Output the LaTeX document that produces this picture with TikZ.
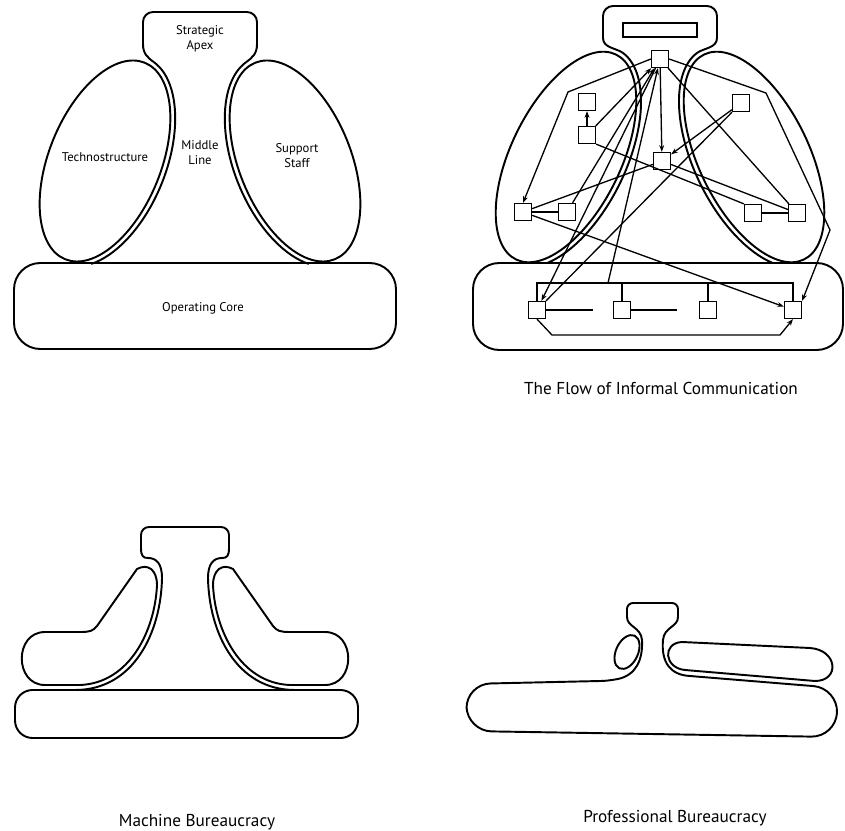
\documentclass[tikz,border=0pt]{standalone}
\usepackage{fontspec}
\setmainfont{PT Sans}
\usetikzlibrary{arrows.meta, positioning}

\begin{document}
\begin{tikzpicture}[x=0.02cm, y=0.02cm,
    outline/.style={line width=1.1pt, line join=round},
    link/.style={line width=0.75pt},
    arr/.style={link, -{Stealth[length=3.8pt, width=2.8pt]}},
    box/.style={draw, line width=0.9pt, minimum size=9.5pt, inner sep=0pt},
    lbl/.style={font=\fontsize{7.2}{8.5}\selectfont, align=center, inner sep=0pt},
    caption/.style={font=\fontsize{9.8}{11}\selectfont, inner sep=0pt}]
    \useasboundingbox (0,0) rectangle (845,-831);
    %
    \begin{scope}
        \def\la{106}        % lobe half length
        \def\lb{56}         % lobe half width
        \def\ma{111}        % middle line offset, long
        \def\mb{61}         % middle line offset, short
        \def\tilt{68}       % lobe tilt
        % Draw the operating core
        \draw[outline, rounded corners=15] (14,-263) rectangle (396,-349);
        % Draw the strategic apex
        \draw[outline] (143,-44) -- (143,-22) arc (180:90:10) -- (247,-12) arc (90:0:10) -- (257,-44);
        % Draw the technostructure and the middle line beside it
        \begin{scope}[shift={(105,-161)}, rotate=\tilt]
            \draw[outline] (0,0) ellipse [x radius=\la, y radius=\lb];
            \draw[outline] ({\ma*cos(-8)}, {\mb*sin(-8)}) coordinate (ML1) arc [start angle=-8, end angle=-155, x radius=\ma, y radius=\mb];
        \end{scope}
        \draw[outline] (143,-44) .. controls +(0,-10) and +(-6.4,4.7) .. (ML1);
        % Draw the support staff and the middle line beside it
        \begin{scope}[shift={(295,-161)}, xscale=-1, rotate=\tilt]
            \draw[outline] (0,0) ellipse [x radius=\la, y radius=\lb];
            \draw[outline] ({\ma*cos(-8)}, {\mb*sin(-8)}) coordinate (ML2) arc [start angle=-8, end angle=-155, x radius=\ma, y radius=\mb];
        \end{scope}
        \draw[outline] (257,-44) .. controls +(0,-10) and +(6.4,4.7) .. (ML2);
        % Name the parts
        \node[lbl] (apex) at (200,-39) {Strategic\\Apex};
        \node[lbl] (techno) at (105,-157) {Technostructure};
        \node[lbl] (middle) at (200,-153) {Middle\\Line};
        \node[lbl] (support) at (297,-156) {Support\\Staff};
        \node[lbl] (core) at (203,-308) {Operating Core};
    \end{scope}
    %
    \begin{scope}
        \def\la{114}        % lobe half length
        \def\lb{55}         % lobe half width
        \def\ma{119}        % middle line offset, long
        \def\mb{60}         % middle line offset, short
        \def\tilt{64}       % lobe tilt
        % Draw the operating core
        \draw[outline, rounded corners=15] (473,-263) rectangle (843,-350);
        % Draw the strategic apex
        \draw[outline] (603,-38) -- (603,-16) arc (180:90:10) -- (707,-6) arc (90:0:10) -- (717,-38);
        % Draw the technostructure and the middle line beside it
        \begin{scope}[shift={(566,-157)}, rotate=\tilt]
            \draw[outline] (0,0) ellipse [x radius=\la, y radius=\lb];
            \draw[outline] ({\ma*cos(-5)}, {\mb*sin(-5)}) coordinate (ML3) arc [start angle=-5, end angle=-150, x radius=\ma, y radius=\mb];
        \end{scope}
        \draw[outline] (603,-38) .. controls +(0,-10) and +(-6.5,4.7) .. (ML3);
        % Draw the support staff and the middle line beside it
        \begin{scope}[shift={(754,-157)}, xscale=-1, rotate=\tilt]
            \draw[outline] (0,0) ellipse [x radius=\la, y radius=\lb];
            \draw[outline] ({\ma*cos(-5)}, {\mb*sin(-5)}) coordinate (ML4) arc [start angle=-5, end angle=-150, x radius=\ma, y radius=\mb];
        \end{scope}
        \draw[outline] (717,-38) .. controls +(0,-10) and +(6.5,4.7) .. (ML4);
        % Draw the people who talk to one another
        \node[draw, line width=1pt, minimum width=1.48cm, minimum height=0.28cm, inner sep=0pt] (bar) at (660,-30) {};
        \node[box] (T) at (660,-59) {};
        \node[box] (L1) at (587,-102) {};
        \node[box] (L2) at (587,-135) {};
        \node[box] (M) at (662,-161) {};
        \node[box] (R1) at (741,-103) {};
        \node[box] (LL1) at (523,-212) {};
        \node[box] (LL2) at (567,-212) {};
        \node[box] (RR1) at (753,-213) {};
        \node[box] (RR2) at (797,-213) {};
        \node[box] (C1) at (537,-310) {};
        \node[box] (C2) at (622,-310) {};
        \node[box] (C3) at (708,-310) {};
        \node[box] (C4) at (793,-310) {};
        % Bends and loose ends of the links
        \coordinate (bendL) at (568,-92);
        \coordinate (bendR1) at (766,-93);
        \coordinate (bendR2) at (830,-230);
        \coordinate (busL) at (537,-283);
        \coordinate (busR) at (793,-283);
        \coordinate (bus) at (608,-283);
        \coordinate (c1out) at (593,-310);
        \coordinate (c2out) at (677,-310);
        \coordinate (loopL) at (552,-335);
        \coordinate (loopR) at (780,-335);
        % Draw the links
        \draw[arr] (L2) -- (L1);
        \draw[arr] (T) -- (M);
        \draw[arr] (L2) -- (T);
        \draw[arr] (LL2) -- (T);
        \draw[arr] (bus) -- (T);
        \draw[arr] (T) -- (C1);
        \draw[link] (R1) -- (C1);
        \draw[arr] (R1) -- (M);
        \draw[link] (M) -- (LL1);
        \draw[link] (M) -- (RR2);
        \draw[link] (L2.south east) -- (RR1.north west);
        \draw[link] (T) -- (RR2);
        \draw[arr] (LL1) -- (C4);
        \draw[link] (LL1) -- (LL2);
        \draw[link] (RR1) -- (RR2);
        \draw[arr] (T.west) -- (bendL) -- (LL1.north);
        \draw[arr] (T.east) -- (bendR1) -- (bendR2) -- (C4.north east);
        \draw[link] (C1.north) -- (busL) -- (busR) -- (C4.north);
        \draw[link] (C2.north) -- (C2.north |- busL);
        \draw[link] (C3.north) -- (C3.north |- busL);
        \draw[link, line width=1pt] (C1.east) -- (c1out);
        \draw[link, line width=1pt] (C2.east) -- (c2out);
        \draw[arr] (C1.south) -- (loopL) -- (loopR) -- (C4.south);
        \node[caption] (flow) at (661,-388) {The Flow of Informal Communication};
    \end{scope}
    %
    \begin{scope}
        % Draw the operating core
        \draw[outline, rounded corners=10] (15,-690) rectangle (358,-738);
        % Draw the strategic apex
        \draw[outline] (141,-548) -- (141,-535) arc (180:90:8) -- (221,-527) arc (90:0:8) -- (229,-548);
        % Draw the technostructure and the middle line beside it
        \draw[outline] (157,-585) .. controls (157,-570) and (148,-563) .. (137,-569) -- (97,-626) .. controls (93,-631) and (90,-632) .. (80,-632) -- (45,-632) .. controls (14,-632) and (14,-685) .. (45,-685) -- (80,-685) .. controls (130,-683) and (155,-630) .. (157,-585) -- cycle;
        \draw[outline] (141,-548) .. controls (141,-556) and (143,-558) .. (148,-558) .. controls (156,-558) and (162,-563) .. (162,-578) .. controls (161,-632) and (134,-690) .. (75,-690);
        % Draw the support staff (mirror image)
        \begin{scope}[shift={(370,0)}, xscale=-1]
            \draw[outline] (157,-585) .. controls (157,-570) and (148,-563) .. (137,-569) -- (97,-626) .. controls (93,-631) and (90,-632) .. (80,-632) -- (45,-632) .. controls (14,-632) and (14,-685) .. (45,-685) -- (80,-685) .. controls (130,-683) and (155,-630) .. (157,-585) -- cycle;
            \draw[outline] (141,-548) .. controls (141,-556) and (143,-558) .. (148,-558) .. controls (156,-558) and (162,-563) .. (162,-578) .. controls (161,-632) and (134,-690) .. (75,-690);
        \end{scope}
        \node[caption] (machine) at (197,-822) {Machine Bureaucracy};
    \end{scope}
    %
    \begin{scope}
        % Draw the operating core
        \draw[outline, rounded corners=14] (600,-681) -- (466,-684) -- (467,-731) -- (836,-737) -- (838,-688) -- (800,-685);
        % Draw the strategic apex and its narrow neck
        \draw[outline] (627,-617) -- (627,-609) arc (180:90:6) -- (672,-603) arc (90:0:6) -- (678,-617);
        \draw[outline] (627,-617) .. controls (627,-627) and (641,-627) .. (642,-640) .. controls (643,-660) and (636,-675) .. (618,-679) .. controls (612,-680) and (606,-681) .. (600,-681);
        \draw[outline] (678,-617) .. controls (678,-627) and (664,-627) .. (663,-640) .. controls (661,-662) and (670,-675) .. (690,-676) -- (800,-685);
        % Draw the technostructure
        \draw[outline, rotate around={65:(627,-652)}] (627,-652) ellipse [x radius=18, y radius=11];
        % Draw the support staff
        \draw[outline] (682,-642) -- (810,-648) .. controls (838,-650) and (840,-681) .. (815,-681) -- (685,-670) .. controls (664,-668) and (662,-643) .. (682,-642) -- cycle;
        \node[caption] (professional) at (675,-818) {Professional Bureaucracy};
    \end{scope}
\end{tikzpicture}
\end{document}
